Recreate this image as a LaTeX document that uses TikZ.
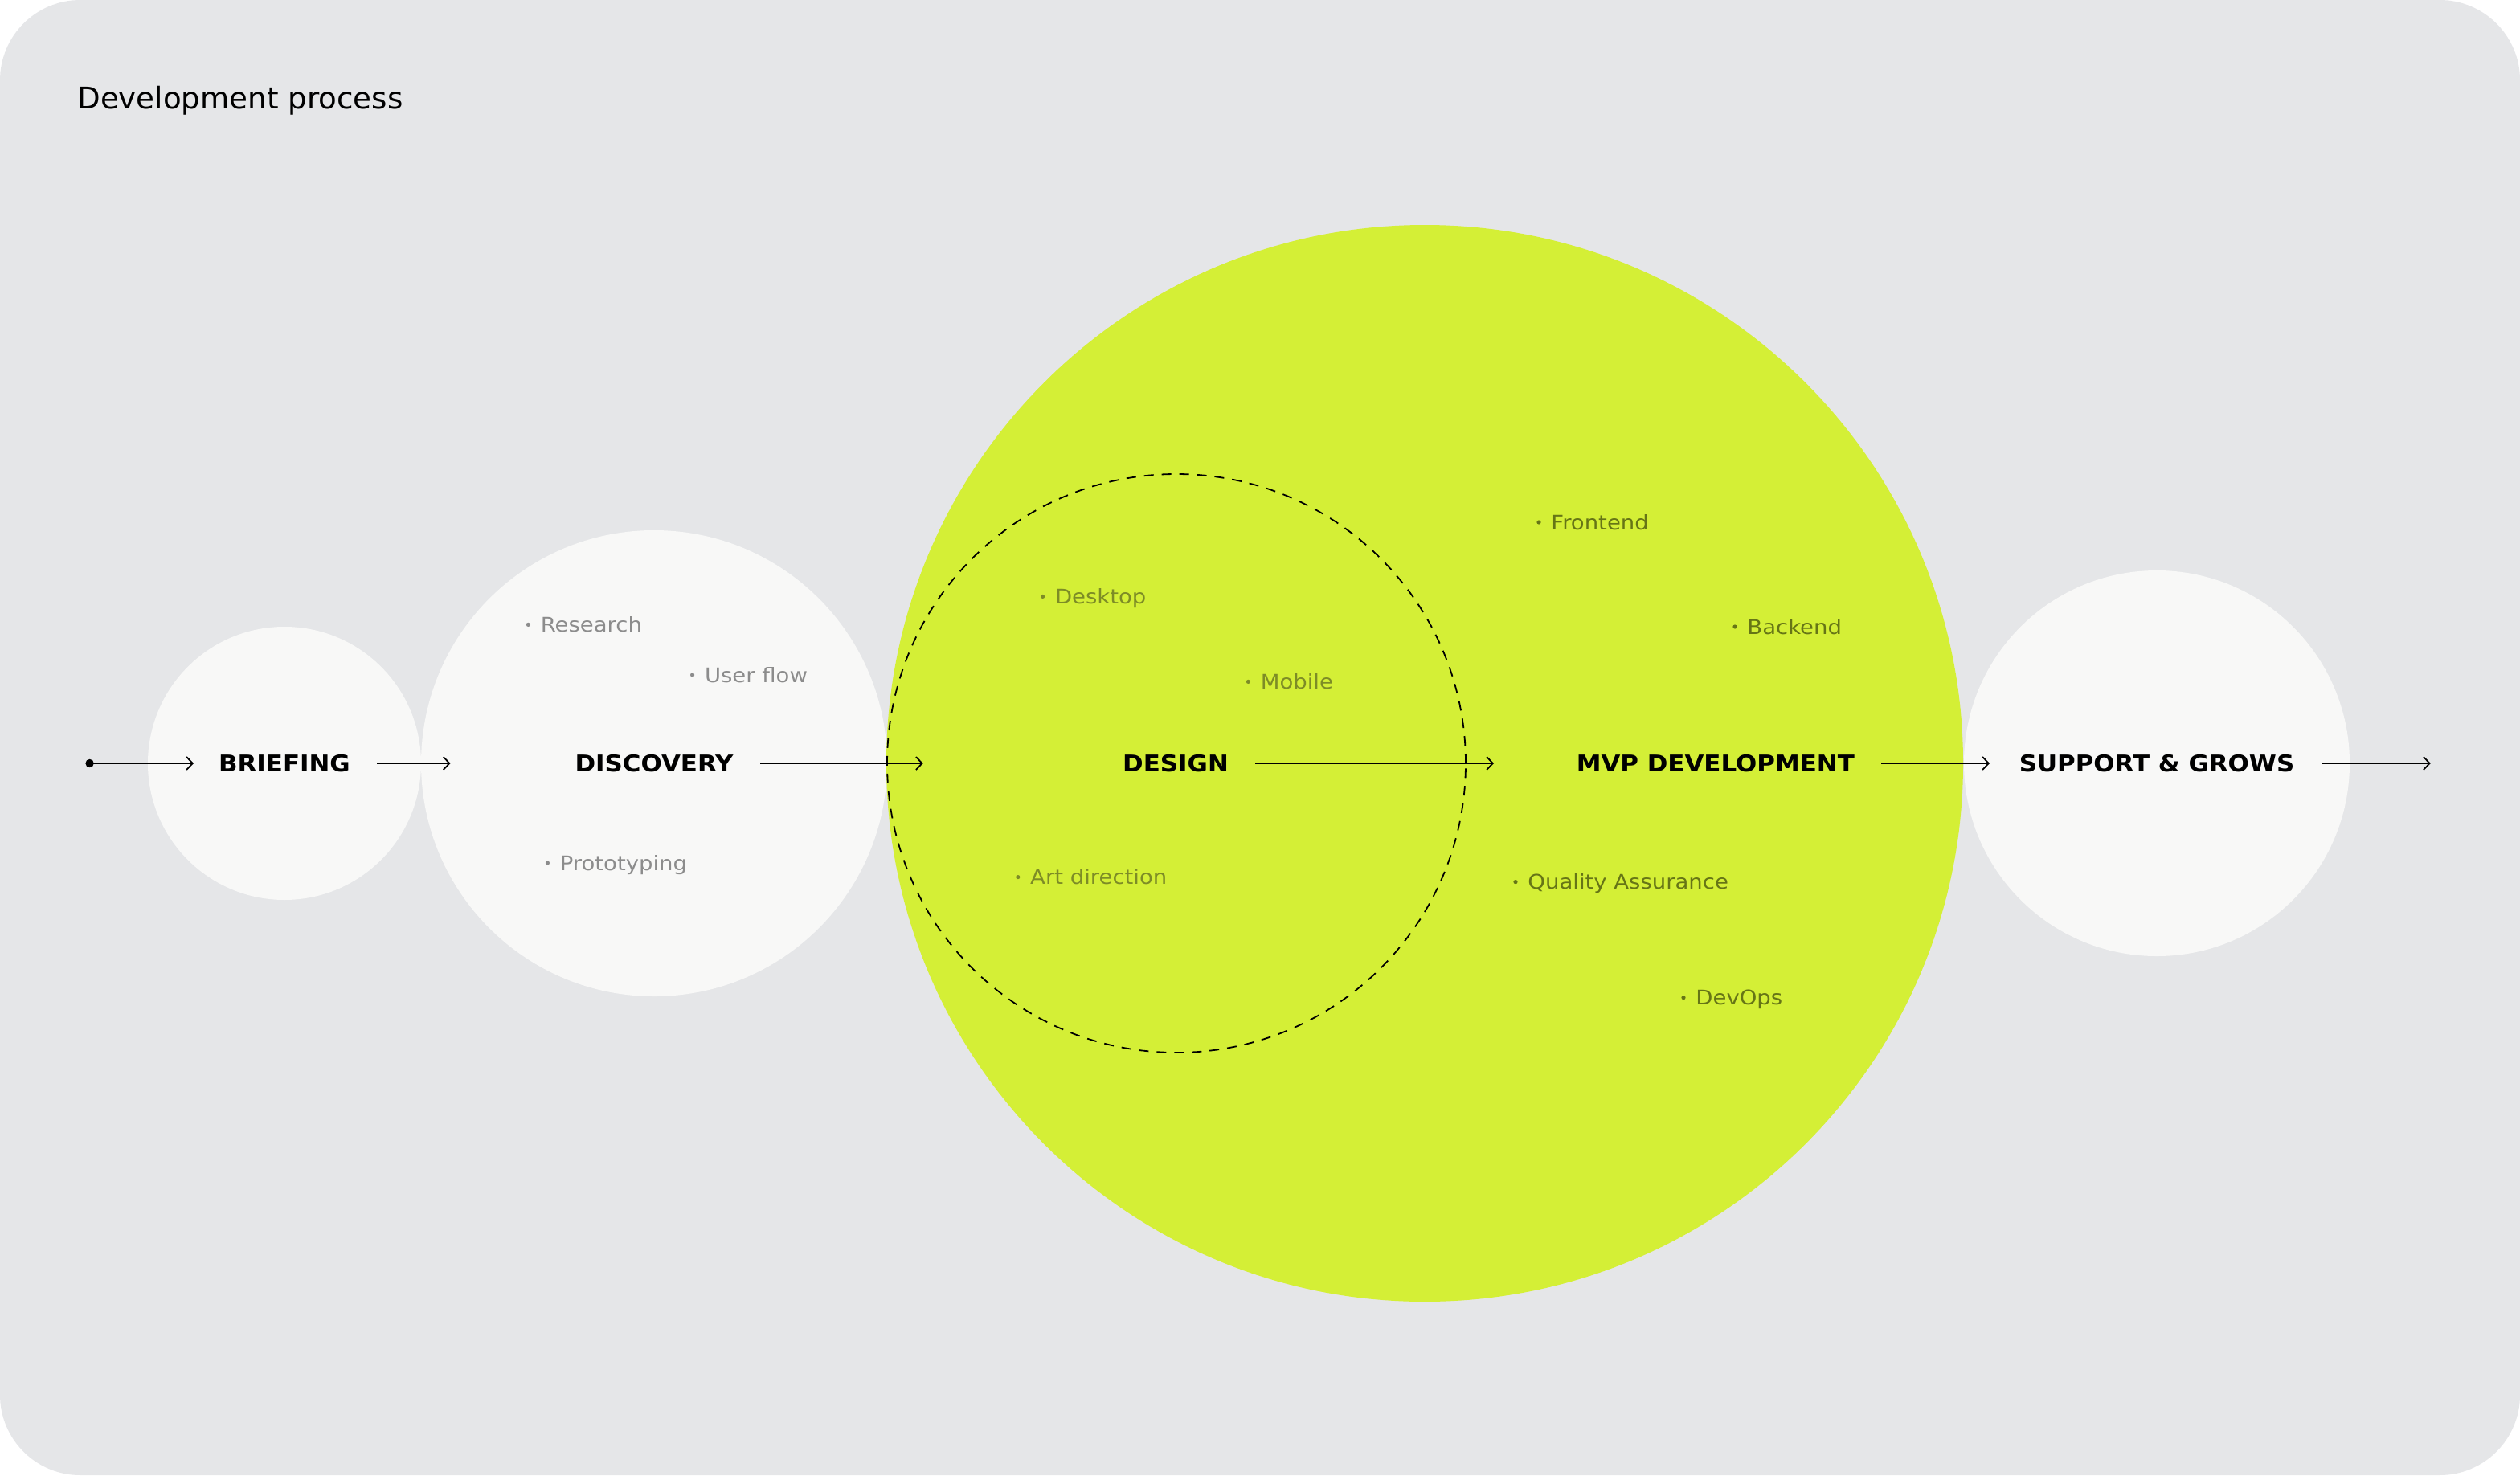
\documentclass[tikz,border=0pt]{standalone}
\usepackage{fontspec}
\setmainfont{DejaVu Sans}
\newfontfamily\labfont[FakeStretch=1.1]{DejaVu Sans}
\newfontfamily\headfont[FakeStretch=1.08]{DejaVu Sans}
\usetikzlibrary{arrows.meta}
\definecolor{bgc}{HTML}{E5E6E8}
\definecolor{lightc}{HTML}{F8F8F7}
\definecolor{limec}{HTML}{D4EF36}
\definecolor{greyt}{HTML}{8C8C8C}
\definecolor{olivea}{HTML}{7D8C26}
\definecolor{oliveb}{HTML}{667516}
\newcommand\bitem[5]{%
  \fill[#5] (#2,#3) circle (1.3);
  \node[item, text=#5] (#1) at (#2+7.5,#3+4.5) {#4};}
\begin{document}
\begin{tikzpicture}[x=1pt,y=-1pt,
  disc/.style={circle, draw=none, inner sep=0, outer sep=0},
  stage/.style={font=\headfont\bfseries\fontsize{14.3}{16}\selectfont, inner xsep=16.5pt, inner ysep=0pt, anchor=center},
  item/.style={font=\labfont\fontsize{12.5}{14}\selectfont, anchor=base west, inner sep=0pt},
  arr/.style={line width=0.9pt, -{Straight Barb[length=3.8pt,width=8pt]}}]
\useasboundingbox (0,0) rectangle (1568,918);
\fill[white] (0,0) rectangle (1568,918);
\fill[bgc, rounded corners=50pt] (0,0) rectangle (1568,918);
% title
\node[anchor=base west, inner sep=0pt, font=\fontsize{18.6}{20}\selectfont] (title) at (48,67.5) {Development process};
% circles
\node[disc, fill=lightc, minimum size=170pt] (cbrief) at (177,475) {};
\node[disc, fill=lightc, minimum size=290pt] (cdisc) at (407,475) {};
\node[disc, fill=lightc, minimum size=240pt] (csup) at (1342,475) {};
\node[disc, fill=limec, minimum size=670pt] (cmvp) at (886.5,475) {};
\node[disc, draw=black, line width=0.9pt, dash pattern=on 6pt off 5pt, minimum size=360pt] (cdes) at (732,475) {};
% bullet items
\bitem{research}{328.7}{388.7}{Research}{greyt}
\bitem{userflow}{430.8}{420}{User flow}{greyt}
\bitem{proto}{340.7}{537}{Prototyping}{greyt}
\bitem{desktop}{648.8}{371.2}{Desktop}{olivea}
\bitem{mobile}{776.7}{424.2}{Mobile}{olivea}
\bitem{artdir}{633.4}{545.8}{Art direction}{olivea}
\bitem{frontend}{957.5}{325}{Frontend}{oliveb}
\bitem{backend}{1079.5}{390}{Backend}{oliveb}
\bitem{qa}{943}{548.8}{Quality Assurance}{oliveb}
\bitem{devops}{1047.5}{620.8}{DevOps}{oliveb}
% stage labels
\node[stage] (brief) at (177,475) {BRIEFING};
\node[stage] (disco) at (407,475) {DISCOVERY};
\node[stage] (design) at (731.5,475) {DESIGN};
\node[stage] (mvp) at (1067.4,475) {MVP DEVELOPMENT};
\node[stage] (sup) at (1342,475) {SUPPORT \& GROWS};
% arrow endpoints
\coordinate (s0) at (55.8,475);
\coordinate (a0) at (120.5,475);
\coordinate (a1) at (280.3,475);
\coordinate (a2) at (574.4,475);
\coordinate (a3) at (929.5,475);
\coordinate (a4) at (1238,475);
\coordinate (a5) at (1512.4,475);
\fill[black] (s0) circle (2.6);
\draw[arr] (s0) -- (a0);
\draw[arr] (brief.east) -- (a1);
\draw[arr] (disco.east) -- (a2);
\draw[arr] (design.east) -- (a3);
\draw[arr] (mvp.east) -- (a4);
\draw[arr] (sup.east) -- (a5);
\end{tikzpicture}
\end{document}
